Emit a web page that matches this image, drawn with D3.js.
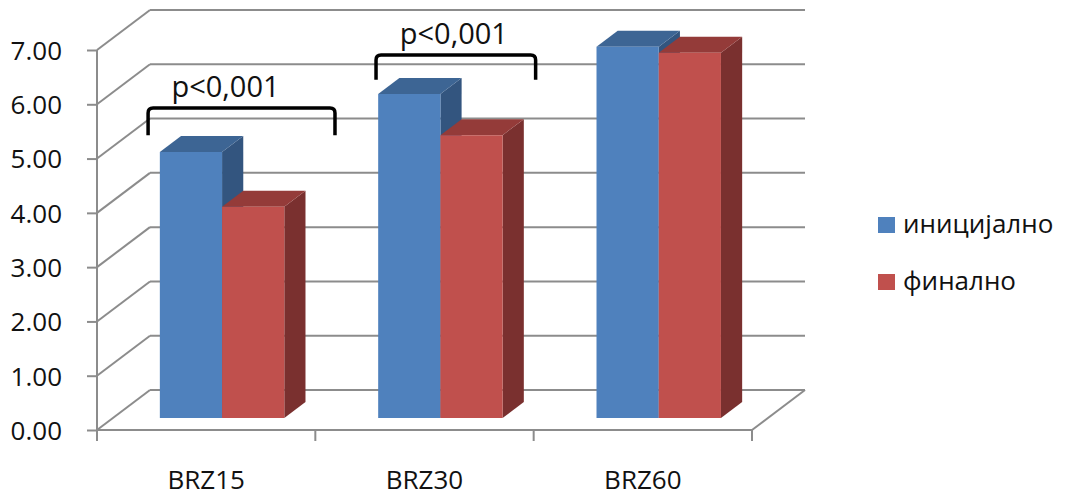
<!DOCTYPE html>
<html>
<head>
<meta charset="utf-8">
<script src="https://cdn.jsdelivr.net/npm/d3@7"></script>
<style>
  html, body { margin: 0; padding: 0; background: #fff; }
  svg { display: block; }
  text { font-family: "Open Sans", "DejaVu Sans", sans-serif; fill: #111; }
</style>
</head>
<body>
<svg id="chart" width="1069" height="497"></svg>
<script>
// Categories, series and values
const categories = ["BRZ15", "BRZ30", "BRZ60"];
const seriesNames = ["иницијално", "финално"];
const initialValues = [4.90, 5.97, 6.84];
const finalValues = [3.89, 5.21, 6.73];
const yTicks = [0, 1, 2, 3, 4, 5, 6, 7];
const pLabels = ["p<0,001", "p<0,001"];

// Significance brackets: category index, span as band fractions, levels in value units
const brackets = [
  { cat: 0, label: pLabels[0], from: 0.234, to: 1.09, top: 5.93, bottom: 5.43, shift: -16 },
  { cat: 1, label: pLabels[1], from: 0.278, to: 1.009, top: 6.91, bottom: 6.45, shift: -2 }
];

const colors = {
  front: ["#4F81BD", "#C0504D"],
  top:   ["#3D6594", "#943B39"],
  side:  ["#33557F", "#7A302F"]
};

const svg = d3.select("#chart");

// Plot frame: front edge of floor and value axis
const x0 = 97, x1 = 752;
const depthX = 53, depthY = 40;         // offset of the back wall
const barZ0 = 0.3, barZ1 = 0.7;         // bar depth range within floor

const y = d3.scaleLinear().domain([0, 7]).range([430, 50]);
const xBand = d3.scaleBand().domain(categories).range([x0, x1])
  .paddingInner(0.43).paddingOuter(0.215);
const xSeries = d3.scaleBand().domain(seriesNames).range([0, xBand.bandwidth()]);
const xCat = d3.scaleBand().domain(categories).range([x0, x1]);

// project (front x, value, depth fraction) onto screen
const P = (x, v, z) => [x + z * depthX, y(v) - z * depthY];
const line = d3.line();

const grid = svg.append("g").attr("stroke", "#8C8C8C").attr("stroke-width", 2).attr("fill", "none");

// back wall gridlines
grid.selectAll(".back").data(yTicks).join("path")
  .attr("d", v => line([P(x0, v, 1), P(x1, v, 1)]));
// side wall gridlines
grid.selectAll(".side").data(yTicks).join("path")
  .attr("d", v => line([P(x0, v, 0), P(x0, v, 1)]));
// floor: right edge
grid.append("path").attr("d", line([P(x1, 0, 0), P(x1, 0, 1)]));

// value axis on the front-left edge
const yAxis = d3.axisLeft(y).tickValues(yTicks).tickFormat(d3.format(".2f"))
  .tickSize(10).tickPadding(25);
const gy = svg.append("g").attr("transform", `translate(${x0},0)`).call(yAxis);
gy.select(".domain").remove();
gy.selectAll(".tick line").attr("stroke", "#8C8C8C").attr("stroke-width", 2);
gy.selectAll(".tick text").attr("font-size", 26).attr("fill", "#111").attr("dy", "0.36em");
grid.append("path").attr("d", line([[x0, y(7)], [x0, y(0) + 11]]));

// category axis on the front floor edge
grid.append("path").attr("d", line([[x0 - 1, y(0)], [x1, y(0)]]));
const boundaries = categories.map(c => xCat(c) + xCat.bandwidth());
grid.selectAll(".ctick").data(boundaries).join("path")
  .attr("d", bx => line([[bx, y(0)], [bx, y(0) + 11]]));

svg.append("g").selectAll("text").data(categories).join("text")
  .attr("x", c => xCat(c) + xCat.bandwidth() / 2)
  .attr("y", y(0) + 59)
  .attr("text-anchor", "middle")
  .attr("font-size", 26)
  .text(c => c);

// bars: each drawn as side, top and front faces, left to right
const bars = [];
categories.forEach((c, i) => {
  [initialValues[i], finalValues[i]].forEach((v, s) => {
    bars.push({ cat: c, s, v, x: xBand(c) + xSeries(seriesNames[s]), w: xSeries.bandwidth() });
  });
});

const gBars = svg.append("g");
bars.forEach(b => {
  const xl = b.x, xr = b.x + b.w;
  const g = gBars.append("g");
  g.append("path").attr("fill", colors.side[b.s])
    .attr("d", line([P(xr, b.v, barZ0), P(xr, b.v, barZ1), P(xr, 0, barZ1), P(xr, 0, barZ0)]) + "Z");
  g.append("path").attr("fill", colors.top[b.s])
    .attr("d", line([P(xl, b.v, barZ0), P(xr, b.v, barZ0), P(xr, b.v, barZ1), P(xl, b.v, barZ1)]) + "Z");
  g.append("path").attr("fill", colors.front[b.s])
    .attr("d", line([P(xl, b.v, barZ0), P(xr, b.v, barZ0), P(xr, 0, barZ0), P(xl, 0, barZ0)]) + "Z");
});

// significance brackets
const gBr = svg.append("g");
brackets.forEach(br => {
  const c = categories[br.cat];
  const bx0 = xCat(c) + br.from * xCat.bandwidth();
  const bx1 = xCat(c) + br.to * xCat.bandwidth();
  const yt = y(br.top), yb = y(br.bottom), r = 5;
  const d = `M${bx0},${yb} L${bx0},${yt + r} Q${bx0},${yt} ${bx0 + r},${yt} ` +
            `L${bx1 - r},${yt} Q${bx1},${yt} ${bx1},${yt + r} L${bx1},${yb}`;
  gBr.append("path").attr("d", d).attr("fill", "none")
    .attr("stroke", "#000").attr("stroke-width", 3.5);
  gBr.append("text")
    .attr("x", (bx0 + bx1) / 2 + br.shift)
    .attr("y", yt - 11)
    .attr("text-anchor", "middle")
    .attr("font-size", 29)
    .text(br.label);
});

// legend
const legend = svg.append("g").attr("transform", "translate(878,217)");
seriesNames.forEach((name, i) => {
  const row = legend.append("g").attr("transform", `translate(0,${i * 57})`);
  row.append("rect").attr("width", 17).attr("height", 16).attr("fill", colors.front[i]);
  row.append("text").attr("x", 25).attr("y", 16).attr("font-size", 26).text(name);
});
</script>
</body>
</html>
